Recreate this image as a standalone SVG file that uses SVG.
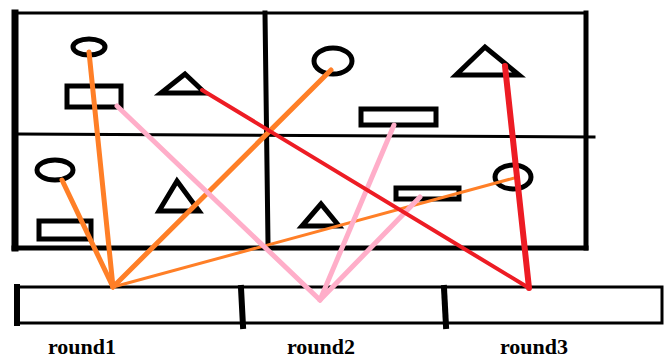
<svg xmlns="http://www.w3.org/2000/svg" width="664" height="360" viewBox="0 0 664 360">
<style>
.fr{stroke:#000;fill:none;stroke-linecap:square}
.sh{stroke:#000;fill:none;stroke-width:5}
.or{stroke:#ff7f27;stroke-linecap:round;fill:none}
.pk{stroke:#ffaec9;stroke-linecap:round;fill:none;stroke-width:5}
.rd{stroke:#ed1c24;stroke-linecap:round;fill:none}
.lb{font-family:"Liberation Serif",serif;font-weight:bold;font-size:22px;fill:#000;text-anchor:middle}
</style>
<rect width="664" height="360" fill="#fff"/>
<g id="frame">
<line class="fr" x1="14" y1="13" x2="586" y2="13" stroke-width="3"/>
<line class="fr" x1="15" y1="13" x2="15" y2="248" stroke-width="7"/>
<line class="fr" x1="586" y1="13" x2="586" y2="248" stroke-width="5"/>
<line class="fr" x1="14" y1="248" x2="586" y2="248" stroke-width="5"/>
<line class="fr" x1="18" y1="134" x2="594" y2="137" stroke-width="3"/>
<line class="fr" x1="265" y1="13" x2="268" y2="243" stroke-width="5"/>
</g>
<g id="bar">
<rect x="16" y="287" width="646" height="36" class="fr" stroke-width="3"/>
<line class="fr" x1="17" y1="287" x2="17" y2="323" stroke-width="6"/>
<line class="fr" x1="241" y1="288" x2="243" y2="326" stroke-width="6"/>
<line class="fr" x1="444" y1="288" x2="446" y2="326" stroke-width="6"/>
</g>
<g id="tl-circle"><ellipse class="sh" cx="89" cy="47" rx="16" ry="8"/></g>
<g id="tl-rect"><rect class="sh" x="67" y="86" width="54" height="21"/></g>
<g id="tl-tri"><polygon class="sh" points="185,74 161,93 205,93" stroke-width="4"/></g>
<g id="tr-circle"><ellipse class="sh" cx="333" cy="61" rx="19" ry="13"/></g>
<g id="tr-tri"><polygon class="sh" points="485,47 456,75 519,75" stroke-width="4"/></g>
<g id="tr-rect"><rect class="sh" x="361" y="109" width="75" height="16"/></g>
<g id="bl-circle"><ellipse class="sh" cx="55" cy="170" rx="18" ry="10"/></g>
<g id="bl-rect"><rect class="sh" x="39" y="221" width="52" height="18"/></g>
<g id="bl-tri"><polygon class="sh" points="177,181 159,211 199,211" stroke-width="6"/></g>
<g id="br-tri"><polygon class="sh" points="321,204 302,226 339,226"/></g>
<g id="br-rect"><rect class="sh" x="396" y="188" width="63" height="11"/></g>
<g id="br-circle"><ellipse class="sh" cx="513" cy="177" rx="18" ry="12"/></g>
<g id="connectors">
<line class="or" x1="113" y1="287" x2="89" y2="52" stroke-width="5"/>
<line class="or" x1="113" y1="287" x2="62" y2="180" stroke-width="5"/>
<line class="or" x1="113" y1="287" x2="331" y2="70" stroke-width="5"/>
<line class="or" x1="113" y1="287" x2="518" y2="177" stroke-width="3"/>
<line class="pk" x1="320" y1="300" x2="117" y2="106"/>
<line class="pk" x1="320" y1="300" x2="394" y2="125"/>
<line class="pk" x1="320" y1="300" x2="420" y2="197"/>
<line class="rd" x1="529" y1="288" x2="202" y2="90" stroke-width="4"/>
<line class="rd" x1="529" y1="288" x2="505" y2="66" stroke-width="6"/>
</g>
<g id="labels">
<text class="lb" x="82" y="354">round1</text>
<text class="lb" x="321" y="354">round2</text>
<text class="lb" x="534" y="354">round3</text>
</g>
</svg>
